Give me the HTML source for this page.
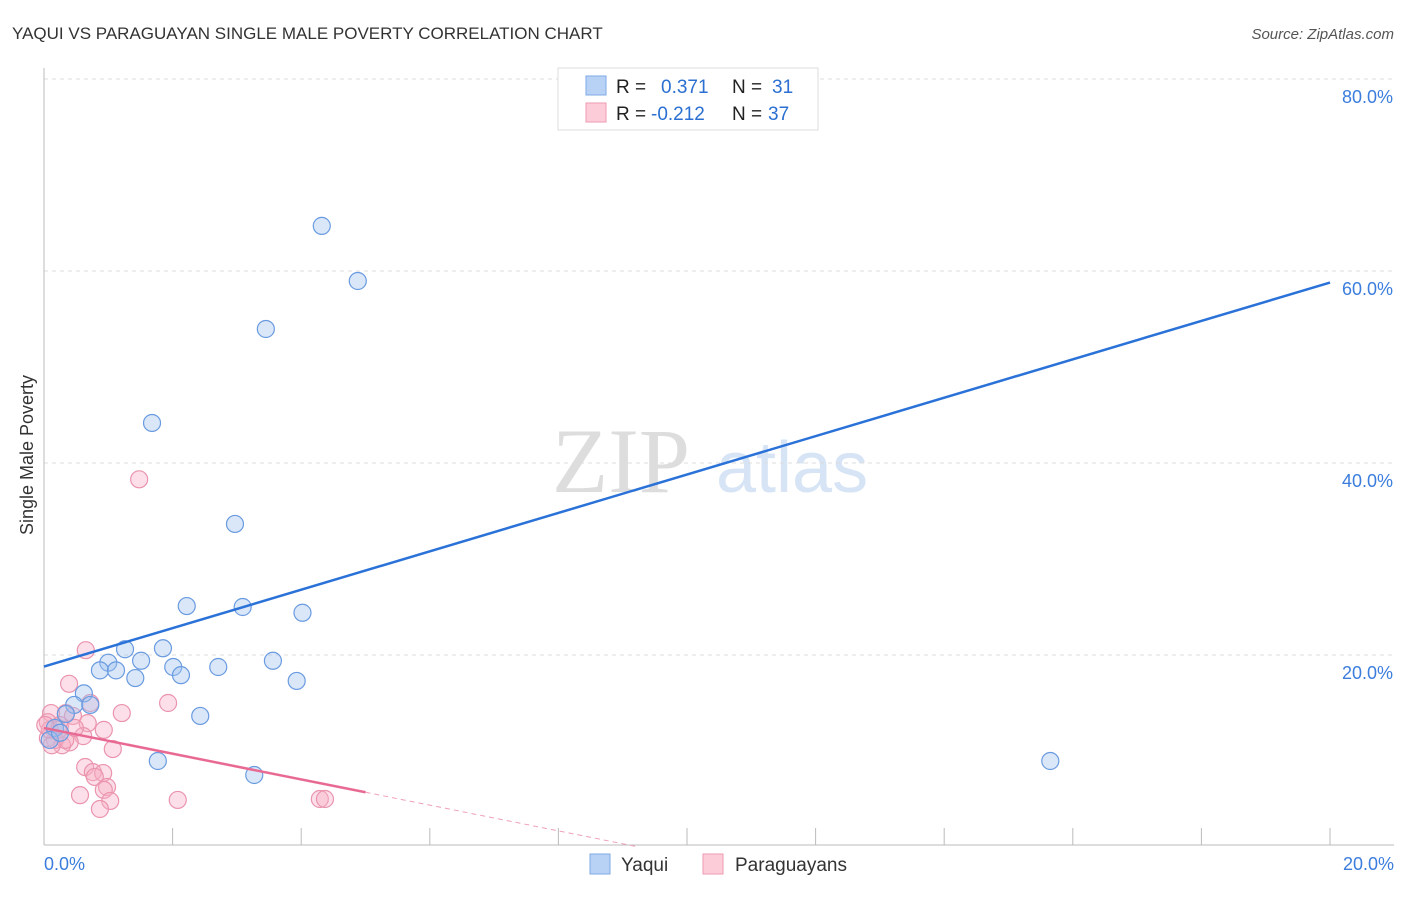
<!DOCTYPE html>
<html><head><meta charset="utf-8"><style>
body{margin:0;background:#fff;font-family:"Liberation Sans",sans-serif}
</style></head><body>
<svg width="1406" height="892" xmlns="http://www.w3.org/2000/svg" style="font-family:'Liberation Sans',sans-serif">
<text x="12" y="39" font-size="17" fill="#333">YAQUI VS PARAGUAYAN SINGLE MALE POVERTY CORRELATION CHART</text>
<text x="1394" y="39" font-size="15" fill="#555" text-anchor="end" font-style="italic">Source: ZipAtlas.com</text>
<g>
<text x="552" y="492" font-size="92" fill="#ddd" font-family="Liberation Serif,serif">ZIP</text>
<text x="716" y="492" font-size="72" fill="#d6e4f5">atlas</text>
</g>
<g id="grid"></g><g id="axes"></g><g id="marks"></g>
<text x="-455" y="33" transform="rotate(-90)" font-size="18" fill="#333" text-anchor="middle">Single Male Poverty</text>
<g>
<rect x="558" y="68" width="260" height="62" fill="#fff" stroke="#ddd"/>
<rect x="586" y="76" width="20" height="19" fill="#b8d2f5" stroke="#7ea9e6"/>
<rect x="586" y="103" width="20" height="19" fill="#fcccd9" stroke="#ee9ab3"/>
<text x="616" y="93" font-size="19" fill="#222">R = <tspan x="661" fill="#2a6fd1">0.371</tspan><tspan x="732" fill="#222">N = </tspan><tspan x="772" fill="#2a6fd1">31</tspan></text>
<text x="616" y="120" font-size="19" fill="#222">R = <tspan x="651" fill="#2a6fd1">-0.212</tspan><tspan x="732" fill="#222">N = </tspan><tspan x="768" fill="#2a6fd1">37</tspan></text>
</g>
<g>
<rect x="590" y="854" width="20" height="20" fill="#b8d2f5" stroke="#7ea9e6"/>
<text x="621" y="871" font-size="19" fill="#333">Yaqui</text>
<rect x="703" y="854" width="20" height="20" fill="#fcccd9" stroke="#ee9ab3"/>
<text x="735" y="871" font-size="19" fill="#333">Paraguayans</text>
</g>
</svg>
<script>
const yTicks=[20,40,60,80];
const yTickLabels=["20.0%","40.0%","60.0%","80.0%"];
const xLabels=["0.0%","20.0%"];
const yaquiX=[4.32,4.88,3.45,1.68,2.97,2.22,3.09,4.02,1.26,1.85,1.00,1.51,0.87,1.12,2.01,3.56,2.71,1.42,2.13,3.93,0.62,0.47,0.72,0.34,2.43,1.77,3.27,15.65,0.17,0.09,0.25];
const yaquiY=[64.7,58.96,53.96,44.17,33.65,25.1,25.0,24.4,20.6,20.7,19.2,19.4,18.4,18.4,18.75,19.4,18.75,17.6,17.9,17.3,16.0,14.8,14.8,13.85,13.65,8.96,7.5,8.96,12.4,11.15,11.9];
const paraX=[1.48,0.65,0.39,1.93,0.72,1.21,0.34,0.11,0.45,0.06,0.68,0.93,0.22,0.61,0.40,1.07,0.28,0.06,0.17,0.64,0.76,0.92,0.79,0.98,0.93,0.56,1.03,0.87,2.08,4.29,4.37,0.09,0.25,0.02,0.33,0.12,0.48];
const paraY=[38.3,20.5,17.0,15.0,15.0,13.95,13.95,13.95,13.65,13.0,12.9,12.2,12.2,11.55,10.9,10.2,10.6,11.35,11.15,8.33,7.8,7.7,7.3,6.25,5.95,5.4,4.8,3.96,4.9,5.0,5.0,12.2,12.7,12.7,11.15,10.6,12.4];
const yaquiTrend=[18.8,58.8];
const paraTrend=[12.4,5.7];
const paraTrendEndX=5;
const NS="http://www.w3.org/2000/svg";
const sx=v=>44+v*64.3, sy=v=>847-v*9.6;
function mk(t,a,p){const e=document.createElementNS(NS,t);for(const k in a)e.setAttribute(k,a[k]);p.appendChild(e);return e;}
const grid=document.getElementById('grid'),axes=document.getElementById('axes'),marks=document.getElementById('marks');
yTicks.forEach((v,i)=>{
 const l=mk('line',{x1:44,x2:1394,y1:sy(v),y2:sy(v),stroke:'#ddd','stroke-dasharray':'4,4'},grid);
 
 
 const t=mk('text',{x:1393,y:sy(v)+24,'font-size':18,fill:'#3b7ddd','text-anchor':'end'},axes);
 t.textContent=yTickLabels[i];
 
 
});
const la=mk('line',{x1:44,x2:44,y1:68,y2:845,stroke:'#bbb'},axes);


const ba=mk('line',{x1:44,x2:1394,y1:845,y2:845,stroke:'#bbb'},axes);


for(let i=0;i<=10;i++){const tk=mk('line',{x1:sx(i*2),x2:sx(i*2),y1:828,y2:845,stroke:'#bbb'},axes);
 
 }
[[0,xLabels[0],'start',44],[20,xLabels[1],'end',1394]].forEach(a=>{const t=mk('text',{x:a[3],y:870,'font-size':18,fill:'#3b7ddd','text-anchor':a[2]},axes);t.textContent=a[1];
 
 });
paraX.forEach((x,i)=>{const c=mk('circle',{cx:sx(x),cy:sy(paraY[i]),r:8.5,fill:'rgba(248,175,198,0.4)',stroke:'#ea94ae','stroke-width':1.2},marks);
 
 });
yaquiX.forEach((x,i)=>{const c=mk('circle',{cx:sx(x),cy:sy(yaquiY[i]),r:8.5,fill:'rgba(160,196,240,0.4)',stroke:'#6a9be0','stroke-width':1.2},marks);
 
 });
const yl=mk('line',{x1:sx(0),y1:sy(yaquiTrend[0]),x2:sx(20),y2:sy(yaquiTrend[1]),stroke:'#2a72d8','stroke-width':2.5},marks);


const slope=(paraTrend[1]-paraTrend[0])/paraTrendEndX, zx=-paraTrend[0]/slope;
const pl=mk('line',{x1:sx(0),y1:sy(paraTrend[0]),x2:sx(paraTrendEndX),y2:sy(paraTrend[1]),stroke:'#e86a93','stroke-width':2.5},marks);


const pd=mk('line',{x1:sx(paraTrendEndX),y1:sy(paraTrend[1]),x2:sx(zx),y2:sy(0),stroke:'#eea0b8','stroke-width':1,'stroke-dasharray':'5,4'},marks);


</script>
</body></html>
